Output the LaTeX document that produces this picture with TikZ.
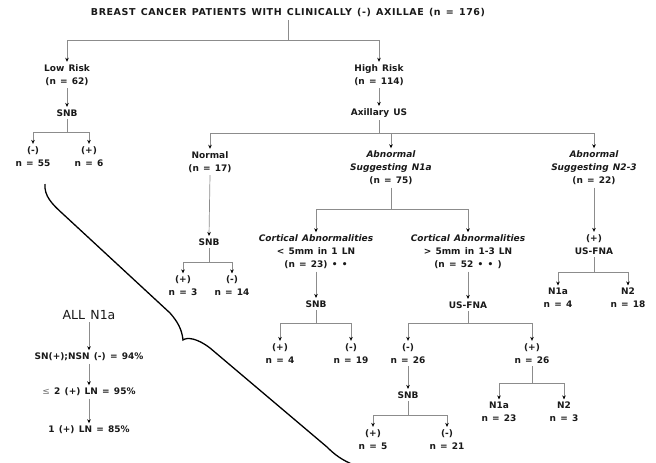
\documentclass[tikz,border=0pt]{standalone}
\usepackage{fontspec}
\setmainfont{DejaVu Sans}[WordSpace=1.35]
\usetikzlibrary{arrows.meta}
\begin{document}
\begin{tikzpicture}[x=1pt,y=-1pt,
  lbl/.style={font=\bfseries\fontsize{9}{13}\selectfont, align=center, inner sep=2.5pt, text=black!90},
  ttl/.style={lbl, font=\bfseries\fontsize{9.5}{13}\selectfont\addfontfeature{LetterSpace=6}},
  big/.style={font=\fontsize{12.5}{14}\selectfont, align=center, inner sep=2.5pt, text=black!90},
  conn/.style={draw=black!45, line width=0.7pt},
  arr/.style={conn, -{Stealth[length=4pt,width=3.6pt,color=black]}},
  brace/.style={draw=black, line width=1.3pt},
]
\useasboundingbox (0,0) rectangle (656,463);

% ---------- nodes ----------
\node[ttl] (title) at (288,13) {BREAST CANCER PATIENTS WITH CLINICALLY (-) AXILLAE (n = 176)};
\node[lbl] (low)   at (67,75)  {Low Risk\\(n = 62)};
\node[lbl] (high)  at (379,75) {High Risk\\(n = 114)};
\node[lbl] (snbL)  at (67,113) {SNB};
\node[lbl] (lneg)  at (33,156.5) {(-)\\n = 55};
\node[lbl] (lpos)  at (89,156.5) {(+)\\n = 6};
\node[lbl] (axus)  at (379,113) {Axillary US};
\node[lbl] (normal) at (210,162) {Normal\\(n = 17)};
\node[lbl] (abn1)  at (391,168) {{\itshape Abnormal}\\{\itshape Suggesting N1a}\\(n = 75)};
\node[lbl] (abn2)  at (594,168) {{\itshape Abnormal}\\{\itshape Suggesting N2-3}\\(n = 22)};
\node[lbl] (snbN)  at (209,242) {SNB};
\node[lbl] (npos)  at (183,286) {(+)\\n = 3};
\node[lbl] (nneg)  at (232,286) {(-)\\n = 14};
\node[lbl] (cort1) at (316,252) {{\itshape Cortical Abnormalities}\\< 5mm in 1 LN\\(n = 23) • •};
\node[lbl] (cort2) at (468,252) {{\itshape Cortical Abnormalities}\\> 5mm in 1-3 LN\\(n = 52 • • )};
\node[lbl] (fna2)  at (594,244.5) {(+)\\US-FNA};
\node[lbl] (m1a)   at (558,298) {N1a\\n = 4};
\node[lbl] (m2)    at (628,298) {N2\\n = 18};
\node[lbl] (snbC)  at (316,304) {SNB};
\node[lbl] (cpos)  at (280,353.5) {(+)\\n = 4};
\node[lbl] (cneg)  at (351,353.5) {(-)\\n = 19};
\node[lbl] (fna1)  at (468,305) {US-FNA};
\node[lbl] (fneg)  at (408,353.5) {(-)\\n = 26};
\node[lbl] (fpos)  at (532,353.5) {(+)\\n = 26};
\node[lbl] (snbD)  at (408,395) {SNB};
\node[lbl] (dpos)  at (373,439.5) {(+)\\n = 5};
\node[lbl] (dneg)  at (447,439.5) {(-)\\n = 21};
\node[lbl] (q1a)   at (499,412) {N1a\\n = 23};
\node[lbl] (q2)    at (564,412) {N2\\n = 3};

\node[big] (all)   at (89,315) {ALL N1a};
\node[lbl] (s1)    at (89,357) {SN(+);NSN (-) = 94\%};
\node[lbl] (s2)    at (89,392) {{\mdseries\color{black!55}≤} 2 (+) LN = 95\%};
\node[lbl] (s3)    at (89,430) {1 (+) LN = 85\%};

% ---------- fork levels ----------
\coordinate (y40)  at (0,40);
\coordinate (y132) at (0,132);
\coordinate (y133) at (0,133);
\coordinate (y209) at (0,209);
\coordinate (y262) at (0,262);
\coordinate (y272) at (0,272);
\coordinate (y323) at (0,323);
\coordinate (y383) at (0,383);
\coordinate (y415) at (0,415);

% ---------- connectors ----------
\draw[conn] (title.south) -- (title.south |- y40);
\draw[arr] (title.south |- y40) -| (low.north);
\draw[arr] (title.south |- y40) -| (high.north);

\draw[arr] (low) -- (snbL);
\draw[conn] (snbL.south) -- (snbL.south |- y132);
\draw[arr] (snbL.south |- y132) -| (lneg.north);
\draw[arr] (snbL.south |- y132) -| (lpos.north);

\draw[arr] (high) -- (axus);
\draw[conn] (axus.south) -- (axus.south |- y133);
\draw[arr] (axus.south |- y133) -| (normal.north);
\draw[arr] (axus.south |- y133) -| (abn1.north);
\draw[arr] (axus.south |- y133) -| (abn2.north);

\draw[arr] (normal.south) -- (snbN.north);
\draw[conn] (snbN.south) -- (snbN.south |- y262);
\draw[arr] (snbN.south |- y262) -| (npos.north);
\draw[arr] (snbN.south |- y262) -| (nneg.north);

\draw[conn] (abn1.south) -- (abn1.south |- y209);
\draw[arr] (abn1.south |- y209) -| (cort1.north);
\draw[arr] (abn1.south |- y209) -| (cort2.north);

\draw[arr] (abn2.south) -- (fna2.north);
\draw[conn] (fna2.south) -- (fna2.south |- y272);
\draw[arr] (fna2.south |- y272) -| (m1a.north);
\draw[arr] (fna2.south |- y272) -| (m2.north);

\draw[arr] (cort1.south) -- (snbC.north);
\draw[conn] (snbC.south) -- (snbC.south |- y323);
\draw[arr] (snbC.south |- y323) -| (cpos.north);
\draw[arr] (snbC.south |- y323) -| (cneg.north);

\draw[arr] (cort2.south) -- (fna1.north);
\draw[conn] (fna1.south) -- (fna1.south |- y323);
\draw[arr] (fna1.south |- y323) -| (fneg.north);
\draw[arr] (fna1.south |- y323) -| (fpos.north);

\draw[arr] (fneg.south) -- (snbD.north);
\draw[conn] (snbD.south) -- (snbD.south |- y415);
\draw[arr] (snbD.south |- y415) -| (dpos.north);
\draw[arr] (snbD.south |- y415) -| (dneg.north);

\draw[conn] (fpos.south) -- (fpos.south |- y383);
\draw[arr] (fpos.south |- y383) -| (q1a.north);
\draw[arr] (fpos.south |- y383) -| (q2.north);

\draw[arr] (all) -- (s1);
\draw[arr] (s1) -- (s2);
\draw[arr] (s2) -- (s3);

% ---------- brace ----------
\draw[brace] (45,184) .. controls (44,196) and (52,204) .. (63,214)
  -- (170,313) .. controls (178,322) and (182,330) .. (183,340)
  .. controls (187,337) and (197,338) .. (210,348)
  -- (327,447) .. controls (335,455) and (342,460) .. (354,465);
\end{tikzpicture}
\end{document}
